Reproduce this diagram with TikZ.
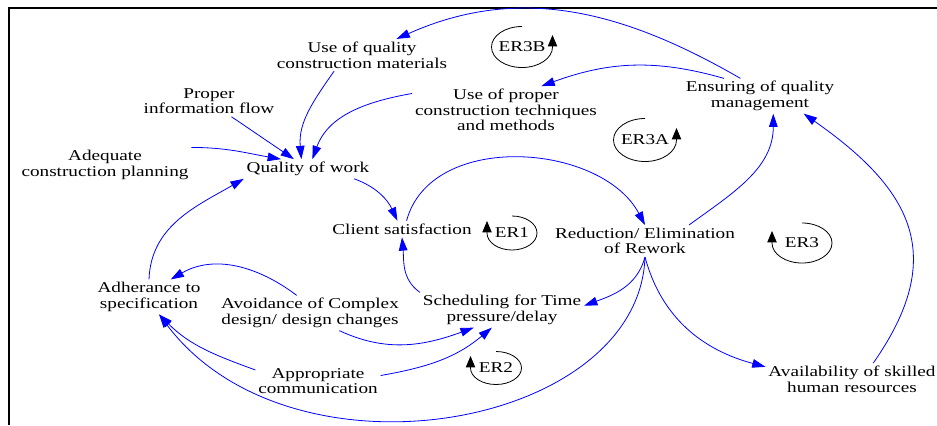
\documentclass[tikz,border=0pt]{standalone}
\usepackage{fontspec}
\setmainfont{Liberation Serif}[FakeStretch=1.28]
\usepackage{tikz}
\usetikzlibrary{arrows.meta}
\newcommand{\varfont}{\fontsize{11.25pt}{11.7pt}\selectfont}
\tikzset{
	x=0.75pt, y=0.75pt,
	var/.style={align=center, inner sep=2pt, font=\varfont},
	flow/.style={blue, line width=0.6pt, -{Triangle[length=10pt,width=6.5pt]}},
	loopline/.style={black, line width=0.6pt, -{Triangle[length=8.5pt,width=7pt]}}}

\begin{document}
\begin{tikzpicture}
		\useasboundingbox (0,0) rectangle (937,-425);
		\draw[line width=1.5pt] (9,-425) -- (9,-8) -- (937,-8);
		
		\node[var] (uqm) at (362,-55) {Use of quality\\construction materials};
		\node[var] (pif) at (209,-101) {Proper\\information flow};
		\node[var] (acp) at (105,-165) {Adequate\\construction planning};
		\node[var] (qow) at (308,-169) {Quality of work};
		\node[var] (upc) at (506,-110) {Use of proper\\construction techniques\\and methods};
		\node[var] (eqm) at (760,-96) {Ensuring of quality\\management};
		\node[var] (cs) at (402,-229) {Client satisfaction};
		\node[var] (rer) at (645,-241) {Reduction/ Elimination\\of Rework};
		\node[var] (stp) at (502,-310) {Scheduling for Time\\pressure/delay};
		\node[var] (adh) at (149,-297) {Adherance to\\specification};
		\node[var] (acd) at (310,-313) {Avoidance of Complex\\design/ design changes};
		\node[var] (ac) at (318,-381) {Appropriate\\communication};
		\node[var] (ashr) at (852,-379) {Availability of skilled\\human resources};
		
		\node[var] (er3b) at (522,-47) {ER3B};
		\node[var] (er3a) at (645,-140) {ER3A};
		\node[var] (er1) at (512,-233) {ER1};
		\node[var] (er3) at (802,-243) {ER3};
		\node[var] (er2) at (496,-368) {ER2};
		
		\draw[loopline] (er3b.center) ++(0,20.5) arc[start angle=90, end angle=360, x radius=30.5, y radius=20.5] -- ++(0,12);
		\draw[loopline] (er3a.center) ++(0,21.5) arc[start angle=90, end angle=360, x radius=31.5, y radius=21.5] -- ++(0,12);
		\draw[loopline] (er1.center) ++(0,17) arc[start angle=90, end angle=-180, x radius=25, y radius=17] -- ++(0,12);
		\draw[loopline] (er3.center) ++(0,20) arc[start angle=90, end angle=-180, x radius=30, y radius=20] -- ++(0,12);
		\draw[loopline] (er2.center) ++(0,16.5) arc[start angle=90, end angle=-180, x radius=25.5, y radius=16.5] -- ++(0,12);
		
		\path[flow]
		(acp.north east) edge[out=0, in=170] (qow.160)
		(pif.-35) edge (qow.145)
		(uqm.-150) edge[out=235, in=95] (qow.124)
		(upc.170) edge[out=190, in=70] (qow.66)
		(adh.north) edge[out=88, in=210] (qow.south west)
		(qow.-12) edge[out=-20, in=115] (cs.119)
		(cs.61) edge[out=75, in=118] (rer.north)
		(stp.north west) edge[out=145, in=-85] (cs.south)
		(rer.south) edge[out=-105, in=20] (stp.3)
		(rer.south) edge[out=-75, in=165] (ashr.172)
		(rer.south) edge[out=-92, in=-53, out looseness=0.9, in looseness=1.15] (adh.-60)
		(ac.170) edge[out=160, in=-45] (adh.-60)
		(ac.5) edge[out=10, in=-140] (stp.-120)
		(acd.-31) edge[out=-25, in=-160] (stp.-148)
		(acd.127) edge[out=143, in=30] (adh.39)
		(eqm.138) edge[out=150, in=24] (uqm.25)
		(eqm.154) edge[out=164, in=20] (upc.34)
		(rer.20) edge[out=36, in=-90] (eqm.-53)
		(ashr.37) edge[out=55, in=-35, looseness=1.3] (eqm.-22)
		;
	\end{tikzpicture}
\end{document}
